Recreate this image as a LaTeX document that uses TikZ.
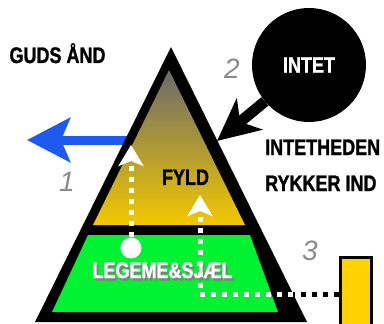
\documentclass[tikz,border=0pt]{standalone}
\usepackage{fontspec}
\setmainfont{Liberation Sans}
\newfontfamily\condfont[FakeStretch=0.8,FakeBold=1.2]{Liberation Sans}
\usetikzlibrary{arrows.meta,positioning}
\definecolor{goldtop}{HTML}{6A6A6A}
\definecolor{goldfill}{HTML}{F2C800}
\definecolor{greenfill}{HTML}{00F230}
\definecolor{bluearrow}{HTML}{1E5AF0}
\definecolor{barfill}{HTML}{FFD200}
\definecolor{numgray}{HTML}{8A8A8A}
\newcommand{\shadowtext}[1]{\rlap{\hspace{2pt}\raisebox{-2.5pt}{\color{black!50}#1}}#1}
\tikzset{
  boldtext/.style={font=\condfont\bfseries\fontsize{22.5}{24}\selectfont,inner sep=0pt},
  numtext/.style={font=\itshape\fontsize{28}{30}\selectfont,text=numgray,inner sep=0pt},
  dotline/.style={line width=5pt,dash pattern=on 5pt off 6pt},
  whitehead/.style={-{Stealth[length=21pt,width=25pt,inset=5pt]}},
}

\begin{document}
\begin{tikzpicture}[x=1pt,y=-1pt]
  \useasboundingbox (0,0) rectangle (384,324);
  % points of the pyramid
  \coordinate (apex) at (171,47);
  \coordinate (baseL) at (35,322);
  \coordinate (baseR) at (307,322);
  \coordinate (bluestart) at (128,140);
  \coordinate (bluetip) at (27,140);
  \coordinate (arrowtip) at (217,141);
  \coordinate (tip1) at (131,145);
  \coordinate (tip2) at (200,195);
  \coordinate (corner) at (200,294);
  \coordinate (edge) at (293,294);
  % blue arrow out of the left side
  \draw[bluearrow,line width=9pt,-{Stealth[length=43pt,width=44pt,inset=9pt]}] (bluestart) -- (bluetip);
  % pyramid
  \fill[black] (apex) -- (baseR) -- (baseL) -- cycle;
  \shade[top color=goldtop,bottom color=goldfill] (169,70) -- (245,225) -- (93,225) -- cycle;
  \fill[greenfill] (88,235) -- (250,235) -- (278,312) -- (52,312) -- cycle;
  % texts
  \node[boldtext,anchor=base] (guds) at (57.5,63) {GUDS ÅND};
  \node[boldtext,anchor=base west] (intetheden) at (265,155) {INTETHEDEN};
  \node[boldtext,anchor=base west] (rykker) at (265,191) {RYKKER IND};
  \node[boldtext,anchor=base] (fyld) at (185.5,185) {FYLD};
  \node[boldtext,anchor=base,text=white] (legeme) at (162.5,278) {\shadowtext{LEGEME\&SJÆL}};
  \node[numtext] (n1) at (67,182) {1};
  \node[numtext] (n2) at (232,69) {2};
  \node[numtext] (n3) at (310,251) {3};
  % white dotted arrows
  \node[circle,fill=white,minimum size=21pt,inner sep=0pt] (dot) at (131,248) {};
  \draw[white,dotline,whitehead] (dot) -- (tip1);
  \node[draw=black,line width=2.5pt,fill=barfill,minimum width=31pt,minimum height=80pt,
    inner sep=0pt,anchor=north west] (bar) at (339,256) {};
  \draw[black,dotline] (bar.west |- corner) -- (edge);
  \draw[white,dotline,whitehead] (edge) -- (corner) -- (tip2);
  % the void moving in
  \node[circle,fill=black,minimum size=114pt,inner sep=0pt,boldtext,text=white] (intet) at (309,65) {INTET};
  \draw[line width=11pt,-{Stealth[length=42pt,width=40pt,inset=12pt]}] (intet) -- (arrowtip);
\end{tikzpicture}
\end{document}
